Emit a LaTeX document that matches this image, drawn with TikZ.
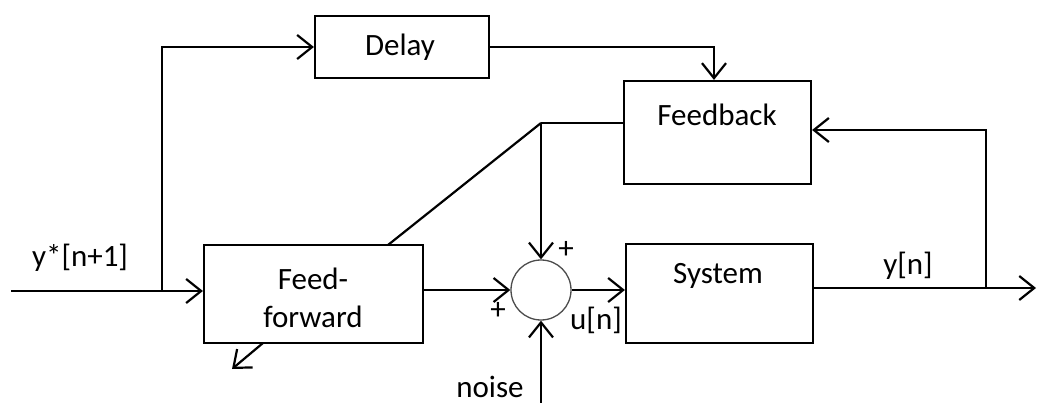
\documentclass[tikz,border=0pt]{standalone}
\usepackage{fontspec}
\setmainfont{Carlito}
\usetikzlibrary{arrows.meta}
\begin{document}
\begin{tikzpicture}[x=1pt,y=-1pt,
  >={Straight Barb[length=15pt,width=24pt]},
  wire/.style={line width=2.2pt},
  blockbox/.style={draw,line width=2.2pt,inner sep=0pt},
  txt/.style={font=\fontsize{31}{38}\selectfont,inner sep=0pt},
  lbl/.style={txt,align=center},
  sumnode/.style={draw=black!70,line width=1.3pt,circle,minimum size=60pt,inner sep=0pt}]
\useasboundingbox (0,0) rectangle (1038,403);

% blocks
\node[blockbox,minimum width=174pt,minimum height=62pt] (delay) at (402,47) {};
\node[blockbox,minimum width=187pt,minimum height=103pt] (fb) at (717.5,132.5) {};
\node[blockbox,minimum width=219pt,minimum height=98pt] (ff) at (313.5,294) {};
\node[blockbox,minimum width=187pt,minimum height=99pt] (sys) at (719.5,293.5) {};
\node[sumnode] (sum) at (541,290) {};

% block texts
\node[lbl] (delaytxt) at (400,47) {Delay};
\node[lbl] (fbtxt) at (717,115) {Feedback};
\node[lbl] (fftxt) at (313,298) {Feed-\\forward};
\node[lbl] (systxt) at (718,276) {System};

% signal labels
\node[lbl] (ystar) at (80,258) {y*[n+1]};
\node[lbl] (yn) at (908,266) {y[n]};
\node[lbl] (un) at (596,320) {u[n]};
\node[txt,anchor=base] (noise) at (490,397) {noise};
\node[lbl] (plustop) at (566,250) {+};
\node[lbl] (plusleft) at (498,311) {+};

% junction points
\coordinate (in) at (11,291);
\coordinate (split) at (162,291);
\coordinate (dly) at (714,47);
\coordinate (tap) at (541,123);
\coordinate (ffcorner) at (388,245);
\coordinate (ffbot) at (263,343);
\coordinate (ffarrow) at (232,369);
\coordinate (noisein) at (541,403);
\coordinate (ytap) at (986,288);
\coordinate (yout) at (1036,288);
\coordinate (fbret) at (986,130);

% connectors
\draw[wire,->] (in) -- (in -| ff.west);
\draw[wire,->] (split) |- (delay.west);
\draw[wire,->] (delay.east) -| (dly |- fb.north);
\draw[wire] (fb.west |- tap) -- (tap);
\draw[wire,->] (tap) -- (sum.north);
\draw[wire] (tap) -- (ffcorner);
\draw[wire,->] (ff.east |- sum.west) -- (sum.west);
\draw[wire,->] (sum.east) -- (sum.east -| sys.west);
\draw[wire,->] (noisein) -- (sum.south);
\draw[wire,->] (sys.east |- ytap) -- (yout);
\draw[wire,->] (ytap) -- (fbret) -- (fbret -| fb.east);
\draw[wire,->] (ffbot) -- (ffarrow);
\end{tikzpicture}
\end{document}
